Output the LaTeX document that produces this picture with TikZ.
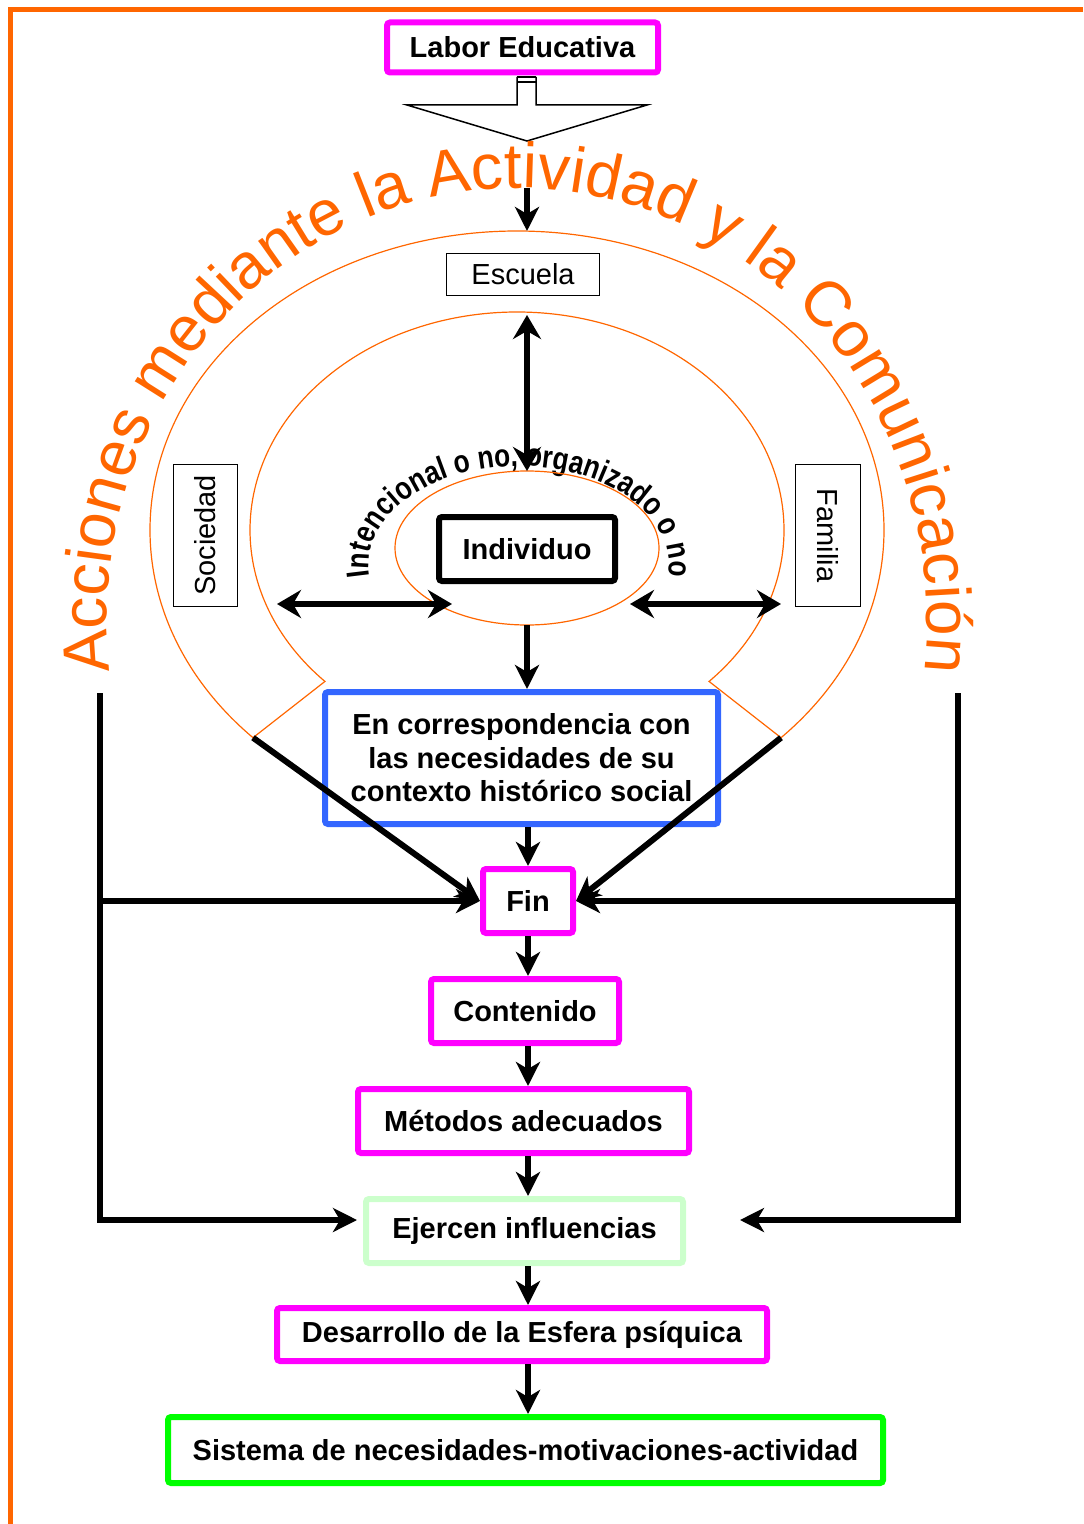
\documentclass[tikz,border=0pt]{standalone}
\usepackage{fontspec}
\setmainfont{Liberation Sans}
\newfontfamily\squeezedfont[FakeStretch=0.82]{Liberation Sans}
\usepackage{xcolor}
\usepackage{tikz}
\usetikzlibrary{shapes.geometric, arrows.meta, positioning, calc, decorations.text}
\definecolor{boxmagenta}{HTML}{FF00FF}
\definecolor{contextblue}{HTML}{3366FF}
\definecolor{palegreen}{HTML}{CCFFCC}
\definecolor{vividgreen}{HTML}{00FF00}
\definecolor{actorange}{HTML}{FF6600}

\begin{document}
\begin{tikzpicture}[x=0.5pt, y=0.5pt,
    flowbox/.style={draw=boxmagenta, line width=3pt, rounded corners=1.5pt, inner sep=0pt, align=center, font=\bfseries\fontsize{14.5}{17}\selectfont},
    thinbox/.style={draw=black, line width=0.75pt, inner sep=0pt, font=\fontsize{14.5}{17}\selectfont},
    flowarrow/.style={line width=2.5pt, -{Stealth[length=12pt, width=12pt, inset=3.5pt]}},
    bothways/.style={line width=3pt, {Stealth[length=12pt, width=14pt, inset=4pt]}-{Stealth[length=12pt, width=14pt, inset=4pt]}},
    ringline/.style={draw=actorange, line width=0.6pt}]
  \useasboundingbox (0,0) rectangle (1083,-1524);
  % orange frame, open to the right and the bottom
  \draw[actorange, line width=2.5pt] (10,-1524) -- (10,-10) -- (1083,-10);

  % top: Labor Educativa and the hollow arrow
  \node[flowbox, minimum width=135.5pt, minimum height=25pt] (labor) at (522.5,-47.5) {Labor Educativa};
  \draw[line width=0.75pt] (517,-77) -- (517,-105) -- (407,-105) -- (527,-141) -- (647,-105) -- (536,-105) -- (536,-77);
  \draw[line width=1.2pt] (517,-77) -- (536,-77) (517,-82) -- (536,-82);

  % horseshoe band of the environment
  \coordinate (bandsw) at ($(517,-530)+(224:367 and 299)$);
  \coordinate (bandse) at ($(517,-530)+(-44:367 and 299)$);
  \draw[ringline] (bandsw) arc[start angle=224, end angle=-44, x radius=367, y radius=299]
    -- ($(517,-530)+(-44:267 and 218)$) arc[start angle=-44, end angle=224, x radius=267, y radius=218] -- cycle;

  % curved labels
  \path[decorate, decoration={text along path, text align=center, text color=actorange,
      text={|\fontsize{32}{36}\selectfont|Acciones mediante la Actividad y la Comunicación}}]
    ($(517,-620)+(192:410 and 432)$) arc[start angle=192, end angle=-12, x radius=410, y radius=432];
  \path[decorate, decoration={text along path, text align=center,
      text={|\squeezedfont\bfseries\fontsize{16}{18}\selectfont|Intencional o no, organizado o no}}]
    ($(519,-565)+(196:150 and 99)$) arc[start angle=196, end angle=-16, x radius=150, y radius=99];

  % agents
  \node[thinbox, minimum width=76.5pt, minimum height=21pt] (escuela) at (523,-274.5) {Escuela};
  \node[thinbox, rotate=90, minimum width=71pt, minimum height=32pt] (sociedad) at (205.5,-535.5) {Sociedad};
  \node[thinbox, rotate=-90, minimum width=71pt, minimum height=32.5pt] (familia) at (828,-535.5) {Familia};
  \node[ringline, ellipse, minimum width=132pt, minimum height=77pt, inner sep=0pt, outer sep=0pt] (ring) at (527,-548) {};
  \node[draw=black, line width=3pt, rounded corners=1.5pt, minimum width=88pt, minimum height=32pt, inner sep=0pt,
    font=\bfseries\fontsize{14.5}{17}\selectfont] (individuo) at (527,-549) {Individuo};

  % flow boxes
  \node[flowbox, draw=contextblue, minimum width=196.5pt, minimum height=66pt, font=\bfseries\fontsize{14.5}{16.8}\selectfont]
    (contexto) at (521.5,-758) {En correspondencia con\\las necesidades de su\\contexto histórico social};
  \node[flowbox, minimum width=45pt, minimum height=32pt] (fin) at (528,-901) {Fin};
  \node[flowbox, minimum width=94pt, minimum height=32pt] (contenido) at (525,-1011) {Contenido};
  \node[flowbox, minimum width=165.5pt, minimum height=32pt] (metodos) at (523.5,-1121) {Métodos adecuados};
  \node[flowbox, draw=palegreen, minimum width=158.5pt, minimum height=32pt] (ejercen) at (524.5,-1231) {Ejercen influencias};
  \node[flowbox, minimum width=245pt, minimum height=26.5pt] (desarrollo) at (522,-1334.5) {Desarrollo de la Esfera psíquica};
  \node[flowbox, draw=vividgreen, minimum width=357.5pt, minimum height=33pt] (sistema) at (525.5,-1450) {Sistema de necesidades-motivaciones-actividad};

  % arrows inside the band
  \coordinate (dropstart) at (527,-188);
  \coordinate (outertop) at (527,-231);
  \draw[flowarrow, line width=3pt] (dropstart) -- (outertop);
  \coordinate (innertop) at (527,-315);
  \draw[bothways] (innertop) -- (ring.north);
  \coordinate (leftreach) at (277,-604);
  \coordinate (ringleft) at (452,-604);
  \draw[bothways] (leftreach) -- (ringleft);
  \coordinate (ringright) at (630,-604);
  \coordinate (rightreach) at (781,-604);
  \draw[bothways] (ringright) -- (rightreach);
  \draw[flowarrow, line width=3pt] (ring.south) -- (ring.south |- contexto.north);

  % main flow
  \draw[flowarrow, line width=3pt] (fin.north |- contexto.south) -- (fin.north);
  \draw[flowarrow, line width=3pt] (fin.south) -- (fin.south |- contenido.north);
  \draw[flowarrow, line width=3pt] (fin.south |- contenido.south) -- (fin.south |- metodos.north);
  \draw[flowarrow, line width=3pt] (fin.south |- metodos.south) -- (fin.south |- ejercen.north);
  \draw[flowarrow, line width=3pt] (fin.south |- ejercen.south) -- (fin.south |- desarrollo.north);
  \draw[flowarrow, line width=3pt] (fin.south |- desarrollo.south) -- (fin.south |- sistema.north);

  % diagonals from the band ends
  \draw[flowarrow, line width=3pt] (bandsw) -- (fin.west);
  \draw[flowarrow, line width=3pt] (bandse) -- (fin.east);

  % side brackets
  \coordinate (lefttop) at (100,-693);
  \coordinate (leftbottom) at (100,-1220);
  \coordinate (ejerleft) at (357,-1220);
  \draw[flowarrow, line width=3pt] (lefttop) -- (leftbottom) -- (ejerleft);
  \draw[flowarrow, line width=3pt] (lefttop |- fin.west) -- (fin.west);
  \coordinate (righttop) at (958,-693);
  \coordinate (rightbottom) at (958,-1220);
  \coordinate (ejerright) at (740,-1220);
  \draw[flowarrow, line width=3pt] (righttop) -- (rightbottom) -- (ejerright);
  \draw[flowarrow, line width=3pt] (righttop |- fin.east) -- (fin.east);
\end{tikzpicture}
\end{document}
